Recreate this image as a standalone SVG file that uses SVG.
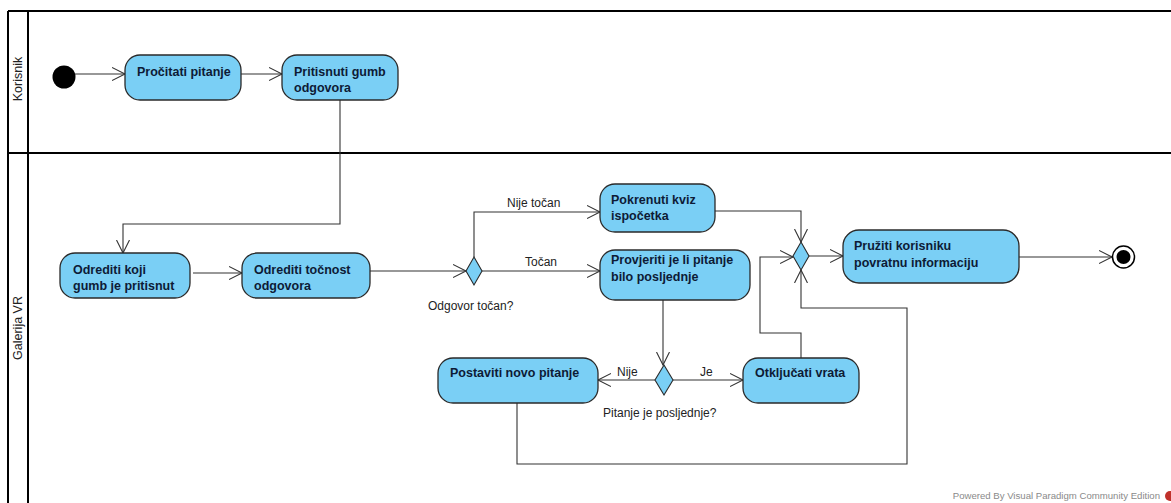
<svg xmlns="http://www.w3.org/2000/svg" width="1171" height="503" viewBox="0 0 1171 503">
<defs>
<marker id="arr" markerUnits="userSpaceOnUse" markerWidth="15" markerHeight="15" refX="13" refY="6.5" orient="auto" viewBox="0 0 15 13">
<path d="M0,0 L13,6.5 L0,13" fill="none" stroke="#333" stroke-width="1.1"/>
</marker>
<style>
.lane{stroke:#000;stroke-width:2;fill:none}
.lanelbl{font-family:"Liberation Sans",Arial,sans-serif;font-size:12.5px;fill:#222}
.act{fill:#7acff5;stroke:#2a2a2a;stroke-width:1.3}
.at{font-family:"Liberation Sans",Arial,sans-serif;font-size:12.5px;font-weight:bold;fill:#0d1b36}
.dec{fill:#7acff5;stroke:#2a2a2a;stroke-width:1.1}
.e{fill:none;stroke:#333;stroke-width:1.1;marker-end:url(#arr)}
.el{font-family:"Liberation Sans",Arial,sans-serif;font-size:12px;fill:#222}
.wm{font-family:"Liberation Sans",Arial,sans-serif;font-size:9.6px;fill:#8a8a8a}
</style>
</defs>
<rect width="1171" height="503" fill="#fff"/>
<g id="lanes">
<path class="lane" d="M8,11 H1171 M8,11 V503 M28,11 V503 M8,153 H1171"/>
<text class="lanelbl" transform="translate(18,79) rotate(-90)" text-anchor="middle" dominant-baseline="central">Korisnik</text>
<text class="lanelbl" transform="translate(18,328) rotate(-90)" text-anchor="middle" dominant-baseline="central">Galerija VR</text>
</g>
<g id="connectors">
<path class="e" d="M75,74 H125"/>
<path class="e" d="M241,74 H282"/>
<path class="e" d="M340,100 V224 H123 V253"/>
<path class="e" d="M193,273 H242"/>
<path class="e" d="M370,271 H466"/>
<path class="e" d="M474,257 V212 H600"/>
<path class="e" d="M482,271 H600"/>
<path class="e" d="M715,211 H801 V242"/>
<path class="e" d="M663,300 V365"/>
<path class="e" d="M655,380 H598"/>
<path class="e" d="M673,380 H743"/>
<path class="e" d="M801,358 V333 H760 V257 H793"/>
<path class="e" d="M517,403 V464 H907 V308 H801 V270"/>
<path class="e" d="M809,256 H843"/>
<path class="e" d="M1019,257 H1112"/>
<text class="el" x="507" y="207">Nije točan</text>
<text class="el" x="525" y="266">Točan</text>
<text class="el" x="617" y="376">Nije</text>
<text class="el" x="700" y="376">Je</text>
</g>
<g id="start"><circle cx="64" cy="77" r="11.5" fill="#000"/></g>
<g id="n_procitati"><rect class="act" x="125" y="55" width="116" height="45" rx="15"/><text class="at" x="137" y="76">Pročitati pitanje</text></g>
<g id="n_pritisnuti"><rect class="act" x="282" y="55" width="116" height="45" rx="15"/><text class="at" x="294" y="76">Pritisnuti gumb</text><text class="at" x="294" y="92">odgovora</text></g>
<g id="n_odrediti_koji"><rect class="act" x="60" y="253" width="130" height="45" rx="15"/><text class="at" x="73" y="274">Odrediti koji</text><text class="at" x="73" y="290">gumb je pritisnut</text></g>
<g id="n_odrediti_tocnost"><rect class="act" x="242" y="253" width="128" height="45" rx="15"/><text class="at" x="254" y="274">Odrediti točnost</text><text class="at" x="254" y="290">odgovora</text></g>
<g id="d_odgovor"><path class="dec" d="M474,257 L482,271 L474,285 L466,271 Z"/><text class="el" x="428" y="310">Odgovor točan?</text></g>
<g id="n_pokrenuti"><rect class="act" x="600" y="184" width="115" height="48" rx="15"/><text class="at" x="611" y="204">Pokrenuti kviz</text><text class="at" x="611" y="220">ispočetka</text></g>
<g id="n_provjeriti"><rect class="act" x="600" y="250" width="150" height="50" rx="15"/><text class="at" x="611" y="264">Provjeriti je li pitanje</text><text class="at" x="611" y="281">bilo posljednje</text></g>
<g id="d_posljednje"><path class="dec" d="M664,365 L673,380 L664,395 L655,380 Z"/><text class="el" x="603" y="417">Pitanje je posljednje?</text></g>
<g id="n_postaviti"><rect class="act" x="438" y="358" width="160" height="45" rx="15"/><text class="at" x="450" y="377">Postaviti novo pitanje</text></g>
<g id="n_otkljucati"><rect class="act" x="743" y="358" width="116" height="45" rx="15"/><text class="at" x="755" y="377">Otključati vrata</text></g>
<g id="d_merge"><path class="dec" d="M801,242 L809,256 L801,270 L793,256 Z"/></g>
<g id="n_pruziti"><rect class="act" x="843" y="230" width="176" height="53" rx="16"/><text class="at" x="854" y="250">Pružiti korisniku</text><text class="at" x="854" y="267">povratnu informaciju</text></g>
<g id="end"><circle cx="1123.5" cy="257" r="11" fill="#fff" stroke="#000" stroke-width="1.5"/><circle cx="1123.5" cy="257" r="7" fill="#000"/></g>
<g id="watermark"><text class="wm" x="1160" y="499" text-anchor="end">Powered By  Visual Paradigm Community Edition</text><circle cx="1170" cy="496" r="5" fill="#c0312b"/></g>
</svg>
